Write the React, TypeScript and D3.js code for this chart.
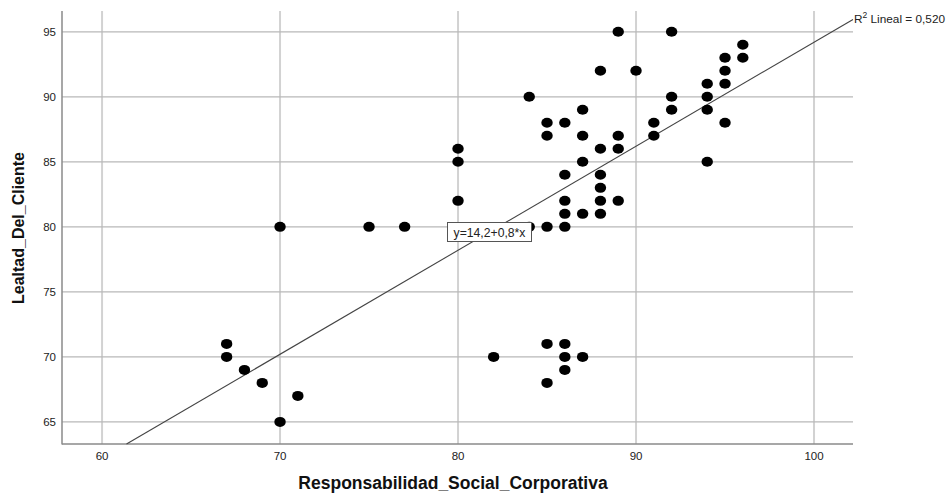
import React from "react";
import * as d3 from "d3";

// ---- data (x = Responsabilidad_Social_Corporativa, y = Lealtad_Del_Cliente)
const xValues: number[] = [
  67, 67, 68, 69, 70, 71, 70,
  75, 77,
  80, 80, 80,
  82,
  84, 84,
  85, 85, 85, 85, 85,
  86, 86, 86, 86, 86, 86, 86, 86,
  87, 87, 87, 87, 87,
  88, 88, 88, 88, 88, 88,
  89, 89, 89, 89,
  90,
  91, 91,
  92, 92, 92,
  94, 94, 94, 94,
  95, 95, 95, 95,
  96, 96,
];
const yValues: number[] = [
  71, 70, 69, 68, 65, 67, 80,
  80, 80,
  86, 85, 82,
  70,
  90, 80,
  88, 87, 80, 71, 68,
  88, 84, 82, 81, 80, 71, 70, 69,
  89, 87, 85, 81, 70,
  92, 86, 84, 83, 82, 81,
  95, 87, 86, 82,
  92,
  88, 87,
  95, 90, 89,
  91, 90, 89, 85,
  93, 92, 91, 88,
  94, 93,
];
const xTicks: number[] = [60, 70, 80, 90, 100];
const yTicks: number[] = [65, 70, 75, 80, 85, 90, 95];
const xDomain: [number, number] = [57.75, 102.19];
const yDomain: [number, number] = [63.3, 96.6];
const intercept = 14.2;
const slope = 0.8;
const r2Label = "0,520";
const equationLabel = "y=14,2+0,8*x";
const xTitle = "Responsabilidad_Social_Corporativa";
const yTitle = "Lealtad_Del_Cliente";

const W = 950;
const H = 498;
const left = 62;
const right = 853;
const top = 11;
const bottom = 444;
const FONT = "'Liberation Sans', Arial, Helvetica, sans-serif";

export default function App() {
  const x = d3.scaleLinear().domain(xDomain).range([left, right]);
  const y = d3.scaleLinear().domain(yDomain).range([bottom, top]);

  const lineX0 = (yDomain[0] - intercept) / slope;
  const lineX1 = xDomain[1];
  const linePath = d3.line<number>()
    .x((d) => x(d))
    .y((d) => y(intercept + slope * d))([lineX0, lineX1]);

  const points = xValues.map((v, i) => ({ x: v, y: yValues[i] }));

  return (
    <svg
      width={W}
      height={H}
      style={{ position: "absolute", left: 0, top: 0, background: "#fff" }}
      fontFamily={FONT}
    >
      <rect x={0} y={0} width={W} height={H} fill="#fff" />
      {xTicks.map((t) => (
        <line key={"vx" + t} x1={x(t)} x2={x(t)} y1={top} y2={bottom}
          stroke="#d2d2d2" strokeWidth={2} />
      ))}
      {yTicks.map((t) => (
        <line key={"hy" + t} x1={left} x2={right} y1={y(t)} y2={y(t)}
          stroke="#b8b8b8" strokeWidth={1.2} />
      ))}
      <line x1={left} x2={left} y1={top} y2={bottom + 0.5} stroke="#8a8a8a" strokeWidth={1.5} />
      <line x1={left} x2={right} y1={bottom} y2={bottom} stroke="#8a8a8a" strokeWidth={1.5} />
      {xTicks.map((t) => (
        <text key={"xt" + t} x={x(t)} y={460} textAnchor="middle" fontSize={11.5} fill="#222">
          {t}
        </text>
      ))}
      {yTicks.map((t) => (
        <text key={"yt" + t} x={56} y={y(t) + 4} textAnchor="end" fontSize={11.5} fill="#222">
          {t}
        </text>
      ))}
      <path d={linePath || ""} fill="none" stroke="#444" strokeWidth={1.1} />
      {points.map((p, i) => (
        <ellipse key={i} cx={x(p.x)} cy={y(p.y)} rx={5.7} ry={5} fill="#000" />
      ))}
      <rect x={447.5} y={222.5} width={84} height={19} fill="#fff" stroke="#555" strokeWidth={1} />
      <text x={489.5} y={236.5} textAnchor="middle" fontSize={12.2} fill="#222">
        {equationLabel}
      </text>
      <text x={854} y={22.5} fontSize={11.8} fill="#222">
        R<tspan dy={-4.5} fontSize={8.5}>2</tspan>
        <tspan dy={4.5}> Lineal = {r2Label}</tspan>
      </text>
      <text x={453} y={489} textAnchor="middle" fontSize={17.5} fontWeight="bold" fill="#111">
        {xTitle}
      </text>
      <text
        transform={`translate(24,228) rotate(-90)`}
        textAnchor="middle"
        fontSize={16}
        fontWeight="bold"
        fill="#111"
      >
        {yTitle}
      </text>
    </svg>
  );
}
